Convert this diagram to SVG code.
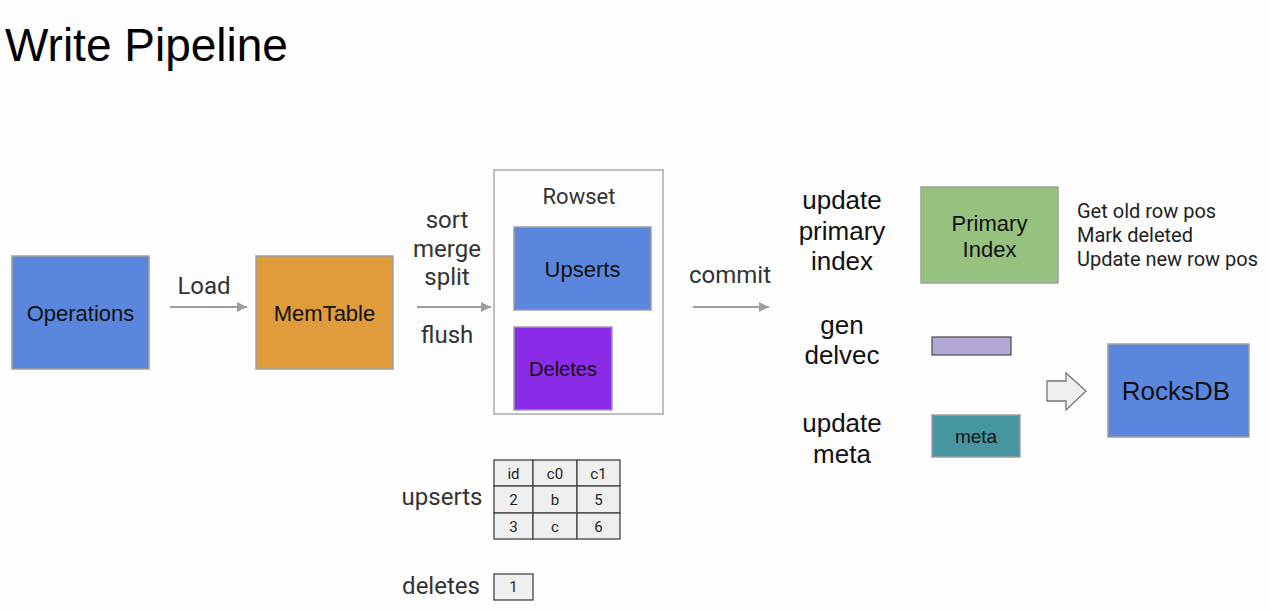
<svg xmlns="http://www.w3.org/2000/svg" width="1270" height="611" viewBox="0 0 1270 611">
<defs>
<marker id="ah" viewBox="0 0 10 10" refX="10" refY="5" markerWidth="12" markerHeight="10" markerUnits="userSpaceOnUse" orient="auto">
<path d="M0,0 L10,5 L0,10 z" fill="#9e9e9e"/>
</marker>
</defs>
<style>
.box{stroke:#9e9e9e;stroke-width:1.5}
.bt{font-family:"Liberation Sans",Arial,sans-serif;fill:#111;text-anchor:middle}
.lb{font-family:Roboto,"Liberation Sans",sans-serif;fill:#333;text-anchor:middle;font-size:24px}
.rl{font-family:"Liberation Sans",Arial,sans-serif;fill:#111;text-anchor:middle;font-size:26px}
.cell{fill:#efefef;stroke:#444;stroke-width:1.3}
.ct{font-family:Roboto,"Liberation Sans",sans-serif;fill:#222;text-anchor:middle;font-size:15px}
.conn{stroke:#9e9e9e;stroke-width:2;fill:none}
.nt{font-family:Roboto,"Liberation Sans",sans-serif;font-size:20px;fill:#222}
</style>
<rect width="1270" height="611" fill="#fdfdfd"/>
<text x="5" y="61" font-family="'Liberation Sans',Arial,sans-serif" font-size="46" fill="#000">Write Pipeline</text>

<g id="connectors">
<line class="conn" x1="170" y1="307" x2="247" y2="307" marker-end="url(#ah)"/>
<line class="conn" x1="417" y1="307" x2="491" y2="307" marker-end="url(#ah)"/>
<line class="conn" x1="693" y1="307" x2="769" y2="307" marker-end="url(#ah)"/>
<path d="M1047,381 H1066 V373 L1086,391 L1066,410 V401 H1047 Z" fill="#efefef" stroke="#777" stroke-width="1.3"/>
</g>

<g id="labels">
<text class="lb" x="204" y="294">Load</text>
<text class="lb" x="447" y="228">sort</text>
<text class="lb" x="447" y="257">merge</text>
<text class="lb" x="447" y="285">split</text>
<text class="lb" x="447" y="343">flush</text>
<text class="lb" x="730" y="283">commit</text>
<text class="rl" x="842" y="209">update</text>
<text class="rl" x="842" y="240">primary</text>
<text class="rl" x="842" y="270">index</text>
<text class="rl" x="842" y="334">gen</text>
<text class="rl" x="842" y="364">delvec</text>
<text class="rl" x="842" y="432">update</text>
<text class="rl" x="842" y="463">meta</text>
</g>

<g id="operations">
<rect class="box" x="12" y="256" width="137" height="113" fill="#5a86dd"/>
<text class="bt" x="80.5" y="321" font-size="22">Operations</text>
</g>
<g id="memtable">
<rect class="box" x="256" y="256" width="137" height="113" fill="#e09b3a"/>
<text class="bt" x="324.5" y="321" font-size="22">MemTable</text>
</g>
<g id="rowset">
<rect x="494" y="170" width="169" height="244" fill="#fdfdfd" stroke="#aaa" stroke-width="1.5"/>
<text class="lb" x="579" y="204" style="font-size:22px">Rowset</text>
</g>
<g id="upserts">
<rect class="box" x="514" y="227" width="137" height="83" fill="#5a86dd"/>
<text class="bt" x="582.5" y="277" font-size="22">Upserts</text>
</g>
<g id="deletes">
<rect class="box" x="514" y="327" width="98" height="83" fill="#8a2be8"/>
<text class="bt" x="563" y="376" font-size="20">Deletes</text>
</g>
<g id="primary-index">
<rect class="box" x="921" y="187" width="137" height="96" fill="#96c17f"/>
<text class="bt" x="989.5" y="231" font-size="22">Primary</text>
<text class="bt" x="989.5" y="257" font-size="22">Index</text>
</g>
<g id="pi-notes">
<text class="nt" x="1077" y="218">Get old row pos</text>
<text class="nt" x="1077" y="242">Mark deleted</text>
<text class="nt" x="1077" y="266">Update new row pos</text>
</g>
<g id="delvec">
<rect x="932" y="337" width="79" height="18" fill="#b4a7d6" stroke="#555" stroke-width="1.3"/>
</g>
<g id="meta">
<rect class="box" x="932" y="415" width="88" height="42" fill="#4596a0"/>
<text class="bt" x="976" y="443" font-size="19">meta</text>
</g>
<g id="rocksdb">
<rect class="box" x="1108" y="344" width="141" height="93" fill="#5a86dd"/>
<text class="bt" x="1176" y="400" font-size="26">RocksDB</text>
</g>

<g id="upserts-table">
<text class="lb" x="442" y="505">upserts</text>
<rect class="cell" x="494" y="460" width="39" height="26"/>
<rect class="cell" x="533" y="460" width="44" height="26"/>
<rect class="cell" x="577" y="460" width="43" height="26"/>
<rect class="cell" x="494" y="486" width="39" height="27"/>
<rect class="cell" x="533" y="486" width="44" height="27"/>
<rect class="cell" x="577" y="486" width="43" height="27"/>
<rect class="cell" x="494" y="513" width="39" height="26"/>
<rect class="cell" x="533" y="513" width="44" height="26"/>
<rect class="cell" x="577" y="513" width="43" height="26"/>
<text class="ct" x="513.5" y="479">id</text>
<text class="ct" x="555" y="479">c0</text>
<text class="ct" x="598.5" y="479">c1</text>
<text class="ct" x="513.5" y="505">2</text>
<text class="ct" x="555" y="505">b</text>
<text class="ct" x="598.5" y="505">5</text>
<text class="ct" x="513.5" y="532">3</text>
<text class="ct" x="555" y="532">c</text>
<text class="ct" x="598.5" y="532">6</text>
</g>
<g id="deletes-table">
<text class="lb" x="441" y="594">deletes</text>
<rect class="cell" x="494" y="574" width="39" height="26"/>
<text class="ct" x="513.5" y="592">1</text>
</g>
</svg>
